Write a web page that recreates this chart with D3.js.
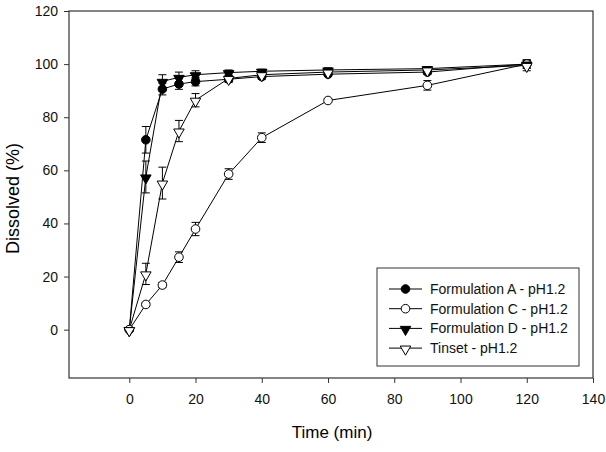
<!DOCTYPE html>
<html>
<head>
<meta charset="utf-8">
<script src="https://cdn.jsdelivr.net/npm/d3@7"></script>
<style>
  body { margin: 0; background: #fff; }
  text { font-family: "Liberation Sans", Arial, sans-serif; }
</style>
</head>
<body>
<div id="chart-area"></div>
<script>
var times = [0, 5, 10, 15, 20, 30, 40, 60, 90, 120];
var formA = [0, 71.5, 90.6, 92.5, 93.4, 94.3, 95.3, 96.2, 97, 100];
var formAErr = [0, 5, 2.2, 2, 1.6, 1.2, 1, 0.8, 0.8, 1.5];
var formC = [0, 9.5, 16.8, 27.3, 37.9, 58.6, 72.3, 86.3, 92, 100];
var formCErr = [0, 0.8, 1, 2, 2.5, 2, 1.8, 0.8, 1.8, 1.5];
var formD = [0, 57.5, 93.5, 95, 96, 96.8, 97.3, 97.8, 98.3, 100];
var formDErr = [0, 6, 2.5, 2, 1.5, 1, 0.8, 0.8, 0.8, 1.5];
var tinset = [0, 21, 55.2, 74.8, 86.4, 94.6, 96, 97, 97.8, 99.5];
var tinsetErr = [0, 4, 6, 4, 2.5, 1.2, 1, 0.8, 0.8, 2];

var xTicks = [0, 20, 40, 60, 80, 100, 120, 140];
var yTicks = [0, 20, 40, 60, 80, 100, 120];

var seriesNames = ["Formulation A - pH1.2", "Formulation C - pH1.2", "Formulation D - pH1.2", "Tinset - pH1.2"];

var margin = {left: 69, right: 13, top: 11, bottom: 74};
var width = 606 - margin.left - margin.right;
var height = 452 - margin.top - margin.bottom;

var svg = d3.select("#chart-area").append("svg")
  .attr("width", 606).attr("height", 452);
var g = svg.append("g")
  .attr("transform", "translate(" + margin.left + "," + margin.top + ")");

var x = d3.scaleLinear().domain([-18.2, 140]).range([0, width]);
var y = d3.scaleLinear().domain([-18.2, 120]).range([height, 0]);

// frame
g.append("rect")
  .attr("width", width).attr("height", height)
  .attr("fill", "none").attr("stroke", "#333").attr("stroke-width", 1.2);

var xAxis = g.append("g")
  .attr("transform", "translate(0," + height + ")")
  .call(d3.axisBottom(x).tickValues(xTicks).tickSize(5).tickPadding(11));
var yAxis = g.append("g")
  .call(d3.axisLeft(y).tickValues(yTicks).tickSize(5).tickPadding(6));
[xAxis, yAxis].forEach(function(a) {
  a.select(".domain").remove();
  a.selectAll("line").attr("stroke", "#333");
  a.selectAll("text").attr("font-size", "14px").attr("fill", "#111")
    .style("font-family", "Liberation Sans, Arial, sans-serif");
});

g.append("text")
  .attr("x", width / 2 + 1).attr("y", height + 60)
  .attr("text-anchor", "middle").attr("font-size", "17px")
  .text("Time (min)");
g.append("text")
  .attr("transform", "rotate(-90)")
  .attr("x", -(height / 2 + 4)).attr("y", -50)
  .attr("text-anchor", "middle").attr("font-size", "18px")
  .text("Dissolved (%)");

var series = [
  {name: seriesNames[0], values: formA, err: formAErr, shape: "circle", fill: "#000"},
  {name: seriesNames[1], values: formC, err: formCErr, shape: "circle", fill: "#fff"},
  {name: seriesNames[2], values: formD, err: formDErr, shape: "tri", fill: "#000"},
  {name: seriesNames[3], values: tinset, err: tinsetErr, shape: "tri", fill: "#fff"}
];

var line = d3.line().x(function(d) { return x(d.t); }).y(function(d) { return y(d.v); });

function drawMarker(sel, s) {
  if (s.shape == "circle") {
    sel.append("circle").attr("r", 4.3)
      .attr("fill", s.fill).attr("stroke", "#000").attr("stroke-width", 1);
  } else {
    sel.append("path")
      .attr("d", d3.symbol().type(d3.symbolTriangle).size(48)())
      .attr("transform", "rotate(180) translate(0,-1)")
      .attr("fill", s.fill).attr("stroke", "#000").attr("stroke-width", 1);
  }
}

series.forEach(function(s) {
  var pts = times.map(function(t, i) { return {t: t, v: s.values[i], e: s.err[i]}; });
  g.append("path").datum(pts)
    .attr("d", line).attr("fill", "none").attr("stroke", "#000").attr("stroke-width", 1);

  var eb = g.selectAll(null).data(pts.filter(function(d) { return d.e > 0; }))
    .enter().append("g");
  eb.append("line")
    .attr("x1", function(d) { return x(d.t); }).attr("x2", function(d) { return x(d.t); })
    .attr("y1", function(d) { return y(d.v + d.e); }).attr("y2", function(d) { return y(d.v - d.e); })
    .attr("stroke", "#000");
  [1, -1].forEach(function(sign) {
    eb.append("line")
      .attr("x1", function(d) { return x(d.t) - 4; }).attr("x2", function(d) { return x(d.t) + 4; })
      .attr("y1", function(d) { return y(d.v + sign * d.e); }).attr("y2", function(d) { return y(d.v + sign * d.e); })
      .attr("stroke", "#000");
  });
});

series.forEach(function(s) {
  var pts = times.map(function(t, i) { return {t: t, v: s.values[i]}; });
  g.selectAll(null).data(pts).enter().append("g")
    .attr("transform", function(d) { return "translate(" + x(d.t) + "," + y(d.v) + ")"; })
    .each(function() { drawMarker(d3.select(this), s); });
});

// legend
var legend = svg.append("g").attr("transform", "translate(377,268)");
legend.append("rect")
  .attr("width", 202).attr("height", 98)
  .attr("fill", "#fff").attr("stroke", "#333").attr("stroke-width", 1);
series.forEach(function(s, i) {
  var row = legend.append("g").attr("transform", "translate(0," + (21 + i * 19.7) + ")");
  row.append("line").attr("x1", 12).attr("x2", 45).attr("stroke", "#000");
  var m = row.append("g").attr("transform", "translate(28.5,0)");
  drawMarker(m, s);
  row.append("text").attr("x", 53).attr("y", 5)
    .attr("font-size", "14px").attr("fill", "#111").text(s.name);
});
</script>
</body>
</html>
